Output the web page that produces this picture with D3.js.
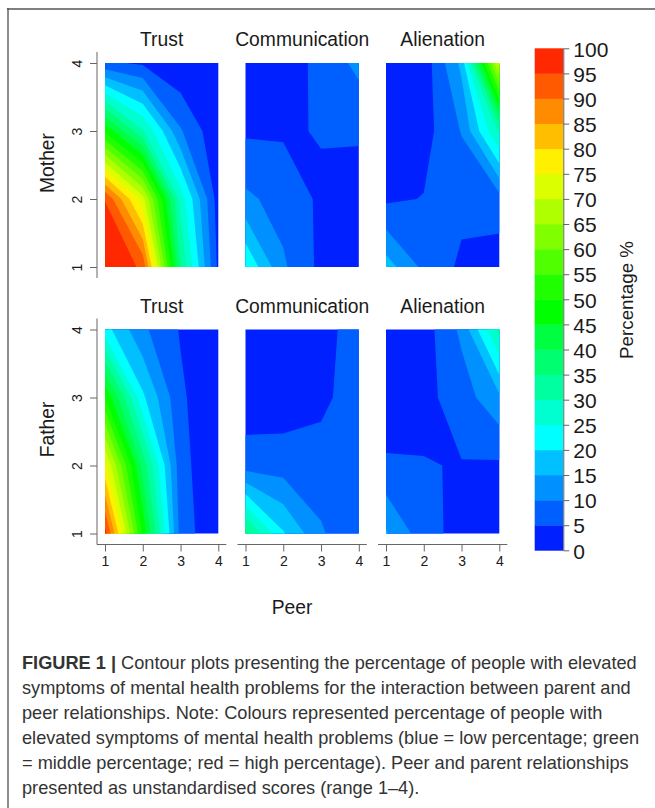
<!DOCTYPE html>
<html>
<head>
  <meta charset="utf-8">
  <title>Figure 1</title>
  <style>
    html, body {margin:0; padding:0; background:#fff;}
    svg {display:block;}
    svg text {font-family:"Liberation Sans", Arial, sans-serif; fill:#1a1a1a;}
    .axis line, .axis path {stroke:#666; fill:none;}
    .caption text {font-size:18.2px; fill:#333;}
  </style>
</head>
<body>
<script src="https://cdnjs.cloudflare.com/ajax/libs/d3/7.8.5/d3.min.js"></script>
<script>
  var width = 655, height = 808;

  // rows run from parent score 1 up to 4, columns from peer score 1 to 4
  var motherTrust = [
    [100, 94, 35, 3.8],
    [94.8, 72, 28, 2.5],
    [49, 30.6, 10.5, 1],
    [6, 4.2, 0.7, 0.5]
  ];
  var motherCommunication = [
    [24.8, 10.8, 3.7, 3.5],
    [11.1, 8, 4.15, 4.3],
    [4.25, 4.4, 5.3, 5.2],
    [2, 3.14, 6, 11.6]
  ];
  var motherAlienation = [
    [17.4, 8.8, 4.05, 2.1],
    [4.1, 5.2, 6.4, 8],
    [2, 3, 10.3, 31],
    [1, 2, 16.3, 72]
  ];
  var fatherTrust = [
    [97, 49, 8, 0.3],
    [76, 38.2, 6.8, 0.5],
    [50, 21, 5.9, 0.5],
    [22, 11, 4.6, 0.5]
  ];
  var fatherCommunication = [
    [37, 20.5, 10.7, 5.1],
    [7.7, 7.7, 7, 7],
    [1.7, 1.95, 3.9, 7.4],
    [1, 1.5, 3.5, 6.9]
  ];
  var fatherAlienation = [
    [15.5, 7.2, 3, 2.5],
    [5.9, 5.24, 4.75, 4.2],
    [1, 3.5, 7.5, 14],
    [1.5, 2.6, 11.1, 32]
  ];

  var scores = [1, 2, 3, 4];
  var levels = d3.range(0, 100, 5);
  var levelTicks = d3.range(0, 105, 5);
  var palette = ['#0020ff', '#0060ff', '#0090ff', '#00c0ff', '#00ffff',
                 '#00ffd0', '#00ffa0', '#00ff70', '#00ff40', '#00ff00',
                 '#20ff00', '#50ff00', '#80ff00', '#b0ff00', '#dcff00',
                 '#fff000', '#ffbe00', '#ff8c00', '#ff5a00', '#ff2800'];

  var panelNames = ['Trust', 'Communication', 'Alienation'];
  var rows = [
    {name: 'Mother', grids: [motherTrust, motherCommunication, motherAlienation], top: 63, bottom: 267},
    {name: 'Father', grids: [fatherTrust, fatherCommunication, fatherAlienation], top: 329.5, bottom: 533.5}
  ];
  var panelLeft = [105, 245.5, 386], panelWidth = 113.3;

  var svg = d3.select('body').append('svg')
    .attr('width', width)
    .attr('height', height);

  // frame round the figure
  svg.append('line')
    .attr('x1', 8).attr('x2', 8)
    .attr('y1', 8).attr('y2', 808)
    .attr('stroke', '#8c8c8c')
    .attr('stroke-width', 2);
  svg.append('line')
    .attr('x1', 7).attr('x2', 655)
    .attr('y1', 9).attr('y2', 9)
    .attr('stroke', '#555')
    .attr('stroke-width', 1.5);

  var contours = d3.contours().size([4, 4]).thresholds(levels);

  rows.forEach(function(row, r){
    var y = d3.scaleLinear().domain([1, 4]).range([row.bottom, row.top]);

    row.grids.forEach(function(grid, c){
      var x = d3.scaleLinear().domain([1, 4]).range([panelLeft[c], panelLeft[c] + panelWidth]);
      var id = 'clip' + r + c;

      svg.append('clipPath').attr('id', id)
        .append('rect')
        .attr('x', x(1))
        .attr('y', y(4))
        .attr('width', panelWidth)
        .attr('height', row.bottom - row.top);

      // d3 puts value i at i + 0.5, so score = i + 0.5 in contour space
      var path = d3.geoPath(d3.geoTransform({
        point: function(px, py){ this.stream.point(x(px + 0.5), y(py + 0.5)); }
      }));

      svg.append('g')
        .attr('clip-path', 'url(#' + id + ')')
        .selectAll('path')
        .data(contours(d3.merge(grid)))
        .join('path')
        .attr('d', path)
        .attr('fill', function(d, i){ return palette[i]; });

      svg.append('text')
        .attr('x', x(2.5))
        .attr('y', row.top - 17)
        .attr('text-anchor', 'middle')
        .style('font-size', '19.3px')
        .text(panelNames[c]);

      // peer axis only under the lower row
      if (r == 1) {
        var xAxis = svg.append('g')
          .attr('class', 'axis')
          .attr('transform', 'translate(0,544.5)')
          .call(d3.axisBottom(x).tickValues(scores).tickFormat(d3.format('d')).tickSize(7).tickSizeOuter(0));
        xAxis.select('.domain').attr('d', 'M' + (x(1) - 8) + ',0H' + (x(4) + 8));
        xAxis.selectAll('text')
          .attr('y', 12)
          .attr('dy', '0.71em')
          .style('font-size', '14px');
      }
    });

    // parent axis
    var yAxis = svg.append('g')
      .attr('class', 'axis')
      .attr('transform', 'translate(97,0)')
      .call(d3.axisLeft(y).tickValues(scores).tickFormat(d3.format('d')).tickSize(7).tickSizeOuter(0));
    yAxis.select('.domain').attr('d', 'M0,' + (row.top - 11) + 'V' + (row.bottom + 11));
    yAxis.selectAll('text')
      .attr('x', null)
      .attr('dy', null)
      .attr('text-anchor', 'middle')
      .attr('transform', 'translate(-15,0) rotate(-90)')
      .style('font-size', '14px');

    svg.append('text')
      .attr('transform', 'translate(54,' + ((row.top + row.bottom) / 2 - 2) + ') rotate(-90)')
      .attr('text-anchor', 'middle')
      .style('font-size', '19.3px')
      .text(row.name);
  });

  svg.append('text')
    .attr('x', 292)
    .attr('y', 614)
    .attr('text-anchor', 'middle')
    .style('font-size', '19.3px')
    .text('Peer');

  // colour key
  var key = d3.scaleLinear().domain([0, 100]).range([550.3, 48.3]);

  svg.append('g')
    .selectAll('rect')
    .data(levels)
    .join('rect')
    .attr('x', 534.7)
    .attr('y', function(d){ return key(d + 5); })
    .attr('width', 28.6)
    .attr('height', function(d){ return key(d) - key(d + 5) + 0.4; })
    .attr('fill', function(d, i){ return palette[i]; });

  var keyAxis = svg.append('g')
    .attr('class', 'axis')
    .attr('transform', 'translate(563.3,0)')
    .call(d3.axisRight(key).tickValues(levelTicks).tickSize(6).tickSizeOuter(0));
  keyAxis.selectAll('text')
    .attr('x', 10)
    .attr('dy', '0.37em')
    .style('font-size', '21px');

  svg.append('text')
    .attr('transform', 'translate(633,300) rotate(-90)')
    .attr('text-anchor', 'middle')
    .style('font-size', '18.8px')
    .text('Percentage %');

  // caption
  var caption = [
    'Contour plots presenting the percentage of people with elevated',
    'symptoms of mental health problems for the interaction between parent and',
    'peer relationships. Note: Colours represented percentage of people with',
    'elevated symptoms of mental health problems (blue = low percentage; green',
    '= middle percentage; red = high percentage). Peer and parent relationships',
    'presented as unstandardised scores (range 1\u20134).'
  ];

  var captionText = svg.append('g')
    .attr('class', 'caption')
    .selectAll('text')
    .data(caption)
    .join('text')
    .attr('x', 22)
    .attr('y', function(d, i){ return 669 + i * 25; });

  captionText.filter(function(d, i){ return i == 0; })
    .append('tspan')
    .style('font-weight', 'bold')
    .text('FIGURE 1 | ');

  captionText.append('tspan').text(function(d){ return d; });
</script>
</body>
</html>
